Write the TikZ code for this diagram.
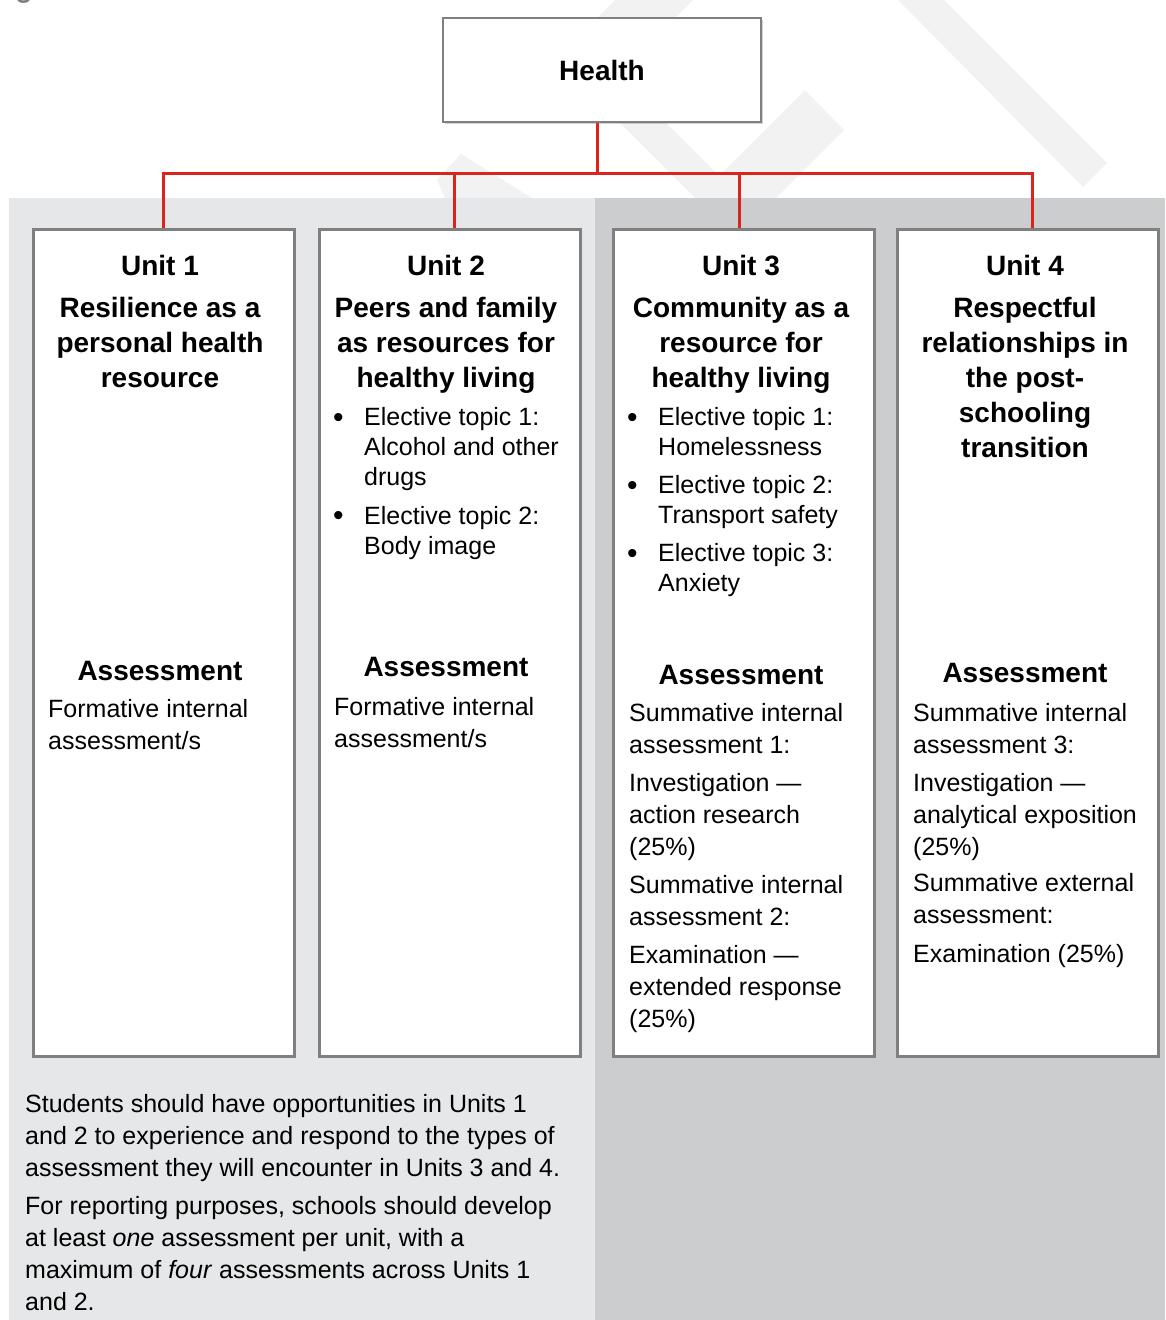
\documentclass[tikz,border=0pt]{standalone}
\usepackage{fontspec}
\setmainfont{Liberation Sans}
\usepackage{xcolor}
\usetikzlibrary{shadows}
\definecolor{panelLight}{RGB}{230, 231, 232}
\definecolor{panelDark}{RGB}{204, 205, 207}
\definecolor{boxBorder}{RGB}{128, 128, 130}
\definecolor{linkRed}{RGB}{218, 37, 29}
\definecolor{markGray}{RGB}{242, 242, 242}

\begin{document}
\begin{tikzpicture}[x=1pt, y=-1pt,
    unitbox/.style={draw=boxBorder, line width=2.5pt, fill=white, inner sep=0pt,
        drop shadow={shadow xshift=1.5pt, shadow yshift=-1.5pt, opacity=0.35}},
    link/.style={draw=linkRed, line width=3pt},
    headText/.style={font=\bfseries\fontsize{28}{35}\selectfont, align=center, anchor=base, inner sep=0pt},
    bodyText/.style={font=\fontsize{25}{32}\selectfont, align=left, anchor=base west, inner sep=0pt},
    listText/.style={font=\fontsize{25}{30}\selectfont, align=left, anchor=base west, inner sep=0pt},
    dotText/.style={font=\fontsize{30}{30}\selectfont, anchor=base west, inner sep=0pt}]
    \useasboundingbox (0,0) rectangle (1165,1320);

    % Faint watermark bands
    \fill[markGray] (615,0) -- (693,0) -- (653,40) -- (575,40) -- cycle;
    \fill[markGray] (597,100) -- (643,100) -- (741,198) -- (695,198) -- cycle;
    \fill[markGray] (805,90) -- (844,130) -- (776,198) -- (697,198) -- cycle;
    \fill[markGray] (898,0) -- (944,0) -- (1107,163) -- (1083,187) -- cycle;
    \fill[markGray] (461,154) -- (437,180) -- (445,198) -- (532,198) -- cycle;
    \node[text=gray, font=\bfseries\fontsize{28}{28}\selectfont, anchor=base] (cutg) at (24,-3) {g};

    % Background panels
    \fill[panelLight] (9,198) rectangle (595,1320);
    \fill[panelDark] (595,198) rectangle (1165,1320);

    % Boxes
    \node[unitbox, font=\bfseries\fontsize{28}{35}\selectfont, minimum width=318, minimum height=104] (health) at (602,70) {Health};
    \node[unitbox, anchor=north west, minimum width=261, minimum height=827] (u1) at (32,228) {};
    \node[unitbox, anchor=north west, minimum width=261, minimum height=827] (u2) at (318,228) {};
    \node[unitbox, anchor=north west, minimum width=261, minimum height=827] (u3) at (612,228) {};
    \node[unitbox, anchor=north west, minimum width=261, minimum height=827] (u4) at (896,228) {};

    % Red links
    \draw[link] ([xshift=-4.5pt]health.south) -- ++(0,50) coordinate (bus);
    \draw[link] (bus) -| (u1.north);
    \draw[link] (bus) -| ([xshift=4.5pt]u2.north);
    \draw[link] (bus) -| ([xshift=-4.5pt]u3.north);
    \draw[link] (bus) -| ([xshift=4.5pt]u4.north);

    % Unit titles (anchored on the last line)
    \node[headText] (t1) at (160,387) {Unit 1\\[7pt]Resilience as a\\personal health\\resource};
    \node[headText] (t2) at (446,387) {Unit 2\\[7pt]Peers and family\\as resources for\\healthy living};
    \node[headText] (t3) at (741,387) {Unit 3\\[7pt]Community as a\\resource for\\healthy living};
    \node[headText] (t4) at (1025,457) {Unit 4\\[7pt]Respectful\\relationships in\\the post-\\schooling\\transition};

    % Elective topics
    \node[dotText] (d21) at (333,427) {•};
    \node[listText] (e21) at (364,485) {Elective topic 1:\\Alcohol and other\\drugs};
    \node[dotText] (d22) at (333,525) {•};
    \node[listText] (e22) at (364,554) {Elective topic 2:\\Body image};
    \node[dotText] (d31) at (627,427) {•};
    \node[listText] (e31) at (658,455) {Elective topic 1:\\Homelessness};
    \node[dotText] (d32) at (627,495) {•};
    \node[listText] (e32) at (658,523) {Elective topic 2:\\Transport safety};
    \node[dotText] (d33) at (627,563) {•};
    \node[listText] (e33) at (658,591) {Elective topic 3:\\Anxiety};

    % Assessment
    \node[headText] (a1) at (160,680) {Assessment};
    \node[bodyText] (f1) at (48,749) {Formative internal\\assessment/s};
    \node[headText] (a2) at (446,676) {Assessment};
    \node[bodyText] (f2) at (334,747) {Formative internal\\assessment/s};
    \node[headText] (a3) at (741,684) {Assessment};
    \node[bodyText] (s3) at (629,1027) {Summative internal\\assessment 1:\\[6pt]Investigation —\\action research\\(25\%)\\[6pt]Summative internal\\assessment 2:\\[6pt]Examination —\\extended response\\(25\%)};
    \node[headText] (a4) at (1025,682) {Assessment};
    \node[bodyText] (s4) at (913,962) {Summative internal\\assessment 3:\\[6pt]Investigation —\\analytical exposition\\(25\%)\\[4pt]Summative external\\assessment:\\[7pt]Examination (25\%)};

    % Note under Units 1 and 2
    \node[bodyText] (note) at (25,1310) {Students should have opportunities in Units 1\\and 2 to experience and respond to the types of\\assessment they will encounter in Units 3 and 4.\\[6pt]For reporting purposes, schools should develop\\at least \emph{one} assessment per unit, with a\\maximum of \emph{four} assessments across Units 1\\and 2.};
\end{tikzpicture}
\end{document}
